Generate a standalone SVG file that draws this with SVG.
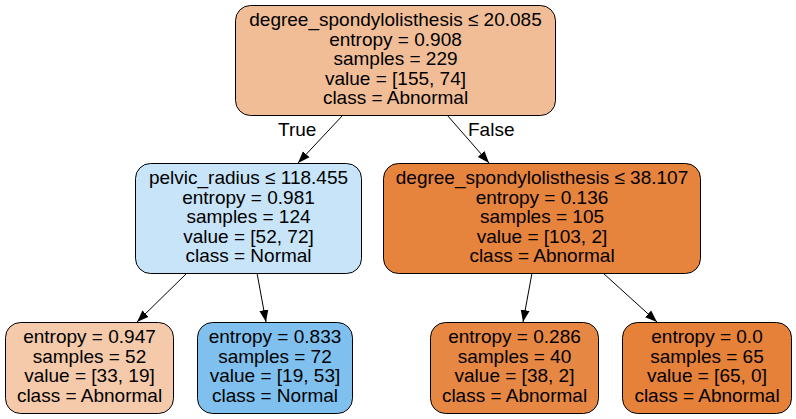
<svg xmlns="http://www.w3.org/2000/svg" width="796" height="419" viewBox="0 0 796 419">
<defs>
<marker id="arr" markerWidth="12" markerHeight="10" refX="12" refY="5" orient="auto" markerUnits="userSpaceOnUse">
<path d="M0,0.5 L12,5 L0,9.5 z" fill="#000"/>
</marker>
</defs>
<style>
.box{stroke:#000;stroke-width:1}
text{font-family:"Liberation Sans",Arial,sans-serif;font-size:19px;fill:#000;text-anchor:middle}
.edge{stroke:#000;stroke-width:1;fill:none;marker-end:url(#arr)}
.lbl{text-anchor:start}
</style>
<rect width="796" height="419" fill="#fff"/>
<g id="connectors">
<line class="edge" x1="343" y1="115" x2="298" y2="163"/>
<line class="edge" x1="447" y1="115" x2="489" y2="163"/>
<line class="edge" x1="187" y1="273" x2="137" y2="322"/>
<line class="edge" x1="257" y1="273" x2="266" y2="322"/>
<line class="edge" x1="532" y1="273" x2="523" y2="322"/>
<line class="edge" x1="603" y1="273" x2="657" y2="322"/>
<text class="lbl" x="278" y="136">True</text>
<text class="lbl" x="468" y="136">False</text>
</g>
<g id="node0">
<rect class="box" x="235.5" y="5.5" width="320" height="110" rx="15" fill="#f1bd97"/>
<text x="395.5" y="26">degree_spondylolisthesis ≤ 20.085</text>
<text x="395.5" y="45.5">entropy = 0.908</text>
<text x="395.5" y="65">samples = 229</text>
<text x="395.5" y="84.5">value = [155, 74]</text>
<text x="395.5" y="104">class = Abnormal</text>
</g>
<g id="node1">
<rect class="box" x="135.5" y="163.5" width="226" height="110" rx="15" fill="#c8e4f8"/>
<text x="248.5" y="184">pelvic_radius ≤ 118.455</text>
<text x="248.5" y="203.5">entropy = 0.981</text>
<text x="248.5" y="223">samples = 124</text>
<text x="248.5" y="242.5">value = [52, 72]</text>
<text x="248.5" y="262">class = Normal</text>
</g>
<g id="node2">
<rect class="box" x="383.5" y="163.5" width="317" height="110" rx="15" fill="#e6833d"/>
<text x="542" y="184">degree_spondylolisthesis ≤ 38.107</text>
<text x="542" y="203.5">entropy = 0.136</text>
<text x="542" y="223">samples = 105</text>
<text x="542" y="242.5">value = [103, 2]</text>
<text x="542" y="262">class = Abnormal</text>
</g>
<g id="node3">
<rect class="box" x="5.5" y="322.5" width="168" height="91" rx="15" fill="#f4caab"/>
<text x="89.5" y="343">entropy = 0.947</text>
<text x="89.5" y="362.5">samples = 52</text>
<text x="89.5" y="382">value = [33, 19]</text>
<text x="89.5" y="401.5">class = Abnormal</text>
</g>
<g id="node4">
<rect class="box" x="197.5" y="322.5" width="155" height="91" rx="15" fill="#80c0ee"/>
<text x="275" y="343">entropy = 0.833</text>
<text x="275" y="362.5">samples = 72</text>
<text x="275" y="382">value = [19, 53]</text>
<text x="275" y="401.5">class = Normal</text>
</g>
<g id="node5">
<rect class="box" x="430.5" y="322.5" width="168" height="91" rx="15" fill="#e68844"/>
<text x="514.5" y="343">entropy = 0.286</text>
<text x="514.5" y="362.5">samples = 40</text>
<text x="514.5" y="382">value = [38, 2]</text>
<text x="514.5" y="401.5">class = Abnormal</text>
</g>
<g id="node6">
<rect class="box" x="622.5" y="322.5" width="169" height="91" rx="15" fill="#e58139"/>
<text x="707" y="343">entropy = 0.0</text>
<text x="707" y="362.5">samples = 65</text>
<text x="707" y="382">value = [65, 0]</text>
<text x="707" y="401.5">class = Abnormal</text>
</g>
</svg>
